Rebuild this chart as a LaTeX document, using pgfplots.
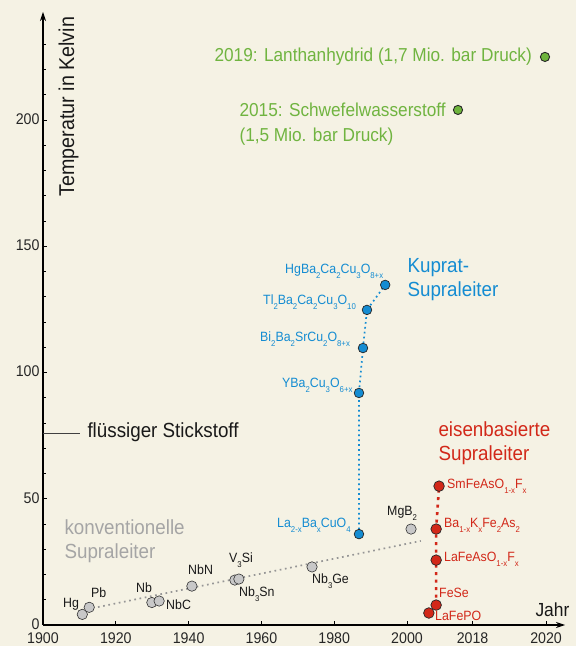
\documentclass[border=0pt]{standalone}
\usepackage{fontspec}
\setmainfont{Liberation Sans}[FakeStretch=0.92]
\usepackage{pgfplots}
\pgfplotsset{compat=1.18}
\usetikzlibrary{arrows.meta}
\definecolor{bg}{RGB}{245,242,228}
\definecolor{grn}{RGB}{112,180,64}
\definecolor{grnpt}{RGB}{110,180,60}
\definecolor{blu}{RGB}{20,140,210}
\definecolor{rd}{RGB}{210,40,25}
\definecolor{gtxt}{RGB}{165,165,165}
\definecolor{gpt}{RGB}{200,200,200}
\definecolor{gline}{RGB}{150,150,150}
\newcommand\fs[1]{\fontsize{#1}{#1}\selectfont}
\newcommand\s[1]{\raisebox{-4.5bp}{\fs{8.5}#1}}
\begin{document}
\begin{tikzpicture}[x=1bp,y=1bp]
\fill[bg] (0,0) rectangle (576,646);
\useasboundingbox (0,0) rectangle (576,646);
\begin{axis}[at={(43bp,21bp)}, anchor=south west, scale only axis,
  width=522bp, height=613bp,
  xmin=1900, xmax=2043.4, ymin=0, ymax=242.8, enlargelimits=false, clip=false,
  axis lines=left,
  axis line style={line width=1.1bp, -{Stealth[length=9bp,width=6bp]}},
  xtick={1900,1920,1940,1960,1980,2000,2018,2038.2},
  xticklabels={1900,1920,1940,1960,1980,2000,2018,2020},
  ytick={0,50,100,150,200}, minor ytick={10,20,...,230},
  tick align=inside, major tick length=4bp, minor tick length=2.5bp,
  tick style={black, line width=0.8bp},
  ticklabel style={font=\fs{15.5}, text=black!85},
  xticklabel style={yshift=-4.5bp},
  yticklabel style={yshift=1bp},
  /pgf/number format/assume math mode=true,
]
% liquid nitrogen
\addplot[black!75, line width=1.2bp] coordinates {(1900,76) (1910.2,76)};
% trend lines
\addplot[gline, line width=1.7bp, dash pattern=on 1.7bp off 3.6bp] coordinates {(1915.1,7.1) (2003.8,33.3)};
\addplot[blu, line width=1.7bp, dash pattern=on 1.7bp off 3.2bp] coordinates {(1986.8,36.0) (1986.8,91.9) (1987.9,109.7) (1989.0,124.8) (1994.0,134.7)};
\addplot[rd, line width=2.6bp, dash pattern=on 3bp off 4.5bp] coordinates {(2008.0,7.9) (2008.0,25.7) (2008.0,38.0) (2008.8,55.0)};
% conventional
\addplot[only marks, mark=*, mark size=5.2bp, mark options={fill=gpt, draw=black!80, line width=0.6bp}] coordinates {
(1910.8,4.2) (1912.7,7.0) (1929.9,8.9) (1931.9,9.5) (1940.9,15.4) (1952.7,17.8) (1953.8,18.2) (1973.9,23.0) (2001.1,38.0)};
% cuprates
\addplot[only marks, mark=*, mark size=4.8bp, mark options={fill=blu, draw=black!85, line width=0.7bp}] coordinates {
(1986.8,36.0) (1986.8,91.9) (1987.9,109.7) (1989.0,124.8) (1994.0,134.7)};
% iron based
\addplot[only marks, mark=*, mark size=5.3bp, mark options={fill=rd, draw=black!85, line width=0.7bp}] coordinates {
(2006.0,4.75) (2008.0,7.9) (2008.0,25.7) (2008.0,38.0) (2008.8,55.0)};
% hydrides
\addplot[only marks, mark=*, mark size=4.6bp, mark options={fill=grnpt, draw=black!85, line width=0.9bp}] coordinates {
(2014.0,204.0) (2037.9,225.0)};
\end{axis}
% axis titles
\node[rotate=90, anchor=base west, font=\fs{21.5}, text=black!90] at (74,446) {Temperatur in Kelvin};
\node[anchor=base west, font=\fs{19}, text=black!90] at (532,29) {Jahr};
\node[anchor=base west, font=\fs{20.5}, text=black!90] at (84,208) {flüssiger Stickstoff};
% group labels
\node[anchor=base west, font=\fs{20.5}, text=gtxt] at (61,111) {konventionelle};
\node[anchor=base west, font=\fs{20.5}, text=gtxt] at (61,87) {Supraleiter};
\node[anchor=base west, font=\fs{20.5}, text=blu] at (404,373) {Kuprat-};
\node[anchor=base west, font=\fs{20.5}, text=blu] at (404,349) {Supraleiter};
\node[anchor=base west, font=\fs{20.5}, text=rd] at (435,209) {eisenbasierte};
\node[anchor=base west, font=\fs{20.5}, text=rd] at (435,185) {Supraleiter};
\node[anchor=base west, font=\fs{18.8}, text=grn] at (211,584) {2019: Lanthanhydrid (1,7 Mio. bar Druck)};
\node[anchor=base west, font=\fs{18.8}, text=grn] at (236,529) {2015: Schwefelwasserstoff};
\node[anchor=base west, font=\fs{18.8}, text=grn] at (236,504) {(1,5 Mio. bar Druck)};
% conventional labels
\begin{scope}[every node/.style={anchor=base west, font=\fs{13.5}, text=black!90, inner sep=0pt}]
\node at (63,38) {Hg};
\node at (91,48) {Pb};
\node at (136,53) {Nb};
\node at (166,36) {NbC};
\node at (188,71) {NbN};
\node at (229,83) {V\s{3}Si};
\node at (239,49) {Nb\s{3}Sn};
\node at (312,62) {Nb\s{3}Ge};
\node at (387,130) {MgB\s{2}};
\end{scope}
\begin{scope}[every node/.style={anchor=base west, font=\fs{13.5}, text=blu, inner sep=0pt}]
\node at (277,118) {La\s{2-x}Ba\s{x}CuO\s{4}};
\node at (285,372) {HgBa\s{2}Ca\s{2}Cu\s{3}O\s{8+x}};
\node at (263,341) {Tl\s{2}Ba\s{2}Ca\s{2}Cu\s{3}O\s{10}};
\node at (260,304) {Bi\s{2}Ba\s{2}SrCu\s{2}O\s{8+x}};
\node at (282,258) {YBa\s{2}Cu\s{3}O\s{6+x}};
\end{scope}
\begin{scope}[every node/.style={anchor=base west, font=\fs{13.5}, text=rd, inner sep=0pt}]
\node at (447,157) {SmFeAsO\s{1-x}F\s{x}};
\node at (444,118) {Ba\s{1-x}K\s{x}Fe\s{2}As\s{2}};
\node at (444,84) {LaFeAsO\s{1-x}F\s{x}};
\node at (439,48) {FeSe};
\node at (435,25) {LaFePO};
\end{scope}
\end{tikzpicture}
\end{document}
